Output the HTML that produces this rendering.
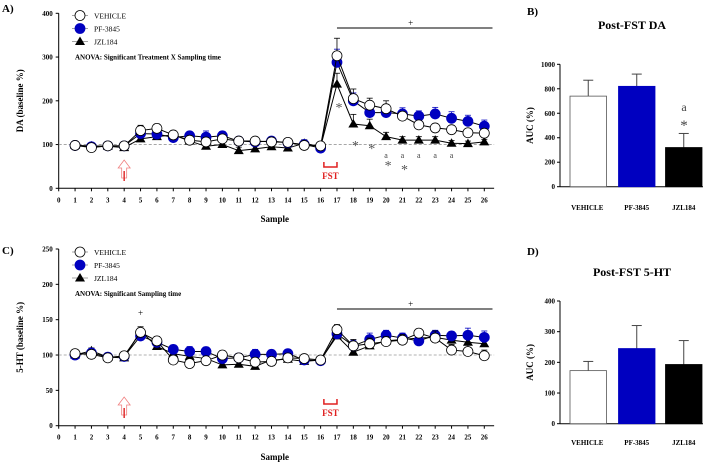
<!DOCTYPE html>
<html><head><meta charset="utf-8"><style>
body{margin:0;background:#fff}
svg{display:block;font-family:"Liberation Serif",serif}
</style></head><body>
<svg id="fig" width="705" height="466" viewBox="0 0 705 466" xmlns="http://www.w3.org/2000/svg" font-weight="bold"></svg>
<script>
const samples=[1,2,3,4,5,6,7,8,9,10,11,12,13,14,15,16,17,18,19,20,21,22,23,24,25,26];
const xTicks=[0,1,2,3,4,5,6,7,8,9,10,11,12,13,14,15,16,17,18,19,20,21,22,23,24,25,26];
const daVehicle=[98,93,97,97,132,137,122,110,106,113,108,108,106,105,98,97,303,205,190,182,165,145,138,134,127,126];
const daPF=[98,95,97,97,125,124,116,120,117,120,108,106,108,104,100,92,288,200,173,173,170,165,170,160,153,142];
const daJZL=[98,97,96,93,113,118,122,108,96,100,86,90,95,92,103,95,238,147,143,118,110,110,110,103,102,106];
const daVehicleErr=[6,5,5,5,12,10,8,8,8,8,8,8,8,7,7,7,40,22,16,18,10,8,8,8,9,8];
const daPFErr=[5,5,5,5,10,10,8,8,14,10,8,8,8,8,8,7,30,18,14,12,14,12,15,15,14,14];
const daJZLErr=[5,5,5,5,10,10,8,8,8,8,8,8,10,8,8,7,25,22,15,10,8,8,8,6,6,6];
const daTicks=[0,100,200,300,400];
const htVehicle=[102,101,96,99,132,120,93,88,92,100,96,90,91,96,95,93,136,113,116,119,121,131,124,107,105,99];
const htPF=[100,103,97,98,127,118,108,105,105,95,96,101,101,102,93,92,130,113,122,128,124,120,128,127,128,125];
const htJZL=[100,106,97,96,134,112,102,98,95,86,87,84,93,94,91,93,127,104,113,120,122,124,125,121,118,116];
const htVehicleErr=[4,4,4,4,6,6,6,6,6,6,6,6,6,6,5,5,7,9,8,7,8,6,10,8,9,8];
const htPFErr=[4,4,4,4,6,6,6,7,6,6,6,7,6,6,5,5,7,8,9,7,7,6,7,6,10,9];
const htJZLErr=[4,4,4,4,6,8,6,6,6,6,6,6,6,6,5,5,6,5,5,5,5,5,5,5,5,5];
const htTicks=[0,50,100,150,200,250];
const groups=["VEHICLE","PF-3845","JZL184"];
const aucDA=[740,820,320];
const aucDAErr=[130,100,115];
const aucDATicks=[0,200,400,600,800,1000];
const auc5HT=[173,245,193];
const auc5HTErr=[30,75,78];
const auc5HTTicks=[0,100,200,300,400];
const colors=["#fff","#0000c0","#000"];

const svg=document.getElementById('fig');
const NS="http://www.w3.org/2000/svg";
function mk(tag,attrs,parent,txt){const e=document.createElementNS(NS,tag);for(const k in attrs)e.setAttribute(k,attrs[k]);if(txt!==undefined)e.textContent=txt;(parent||svg).appendChild(e);return e;}

function linePanel(o){
  const g=mk('g',{});
  
  
  const xs=v=>58.7+v*(484.3-58.7)/26;
  const ys=v=>o.y0+(o.yTop-o.y0)*v/o.yMax;
  const ax=mk('line',{x1:xs(0),y1:ys(0),x2:xs(0),y2:ys(o.yMax),stroke:'#000','stroke-width':1},g);
  
  const bx=mk('line',{x1:xs(0),y1:ys(0),x2:xs(26.6),y2:ys(0),stroke:'#000','stroke-width':1},g);
  
  o.ticks.forEach(t=>{mk('line',{x1:xs(0)-3,x2:xs(0),y1:ys(t),y2:ys(t),stroke:'#000'},g);
    const tl=mk('text',{x:xs(0)-6,y:ys(t)+2.5,'font-size':7,'text-anchor':'end'},g,t);
    });
  xTicks.forEach(t=>{mk('line',{x1:xs(t),x2:xs(t),y1:ys(0),y2:ys(0)+3,stroke:'#000'},g);
    const tl=mk('text',{x:xs(t),y:ys(0)+14,'font-size':7,'text-anchor':'middle'},g,t);
    });
  const xt=mk('text',{x:xs(13.2),y:o.xTitleY,'font-size':9,'text-anchor':'middle'},g,'Sample');
  
  const yt=mk('text',{x:0,y:0,'font-size':9,'text-anchor':'middle',transform:`translate(23,${(ys(0)+ys(o.yMax))/2}) rotate(-90)`},g,o.yTitle);
  
  const pl=mk('text',{x:2,y:o.labelY,'font-size':11},g,o.label);
  
  const bl=mk('line',{x1:xs(0),x2:xs(26.6),y1:ys(100),y2:ys(100),stroke:'#999','stroke-dasharray':'3,2','stroke-width':0.8},g);
  
  const sb=mk('line',{x1:xs(17),x2:xs(26.5),y1:o.sigY,y2:o.sigY,stroke:'#000'},g);
  
  mk('text',{x:xs(21.5),y:o.sigY-2,'font-size':9,'text-anchor':'middle','font-weight':'normal'},g,'+');
  const ar=mk('path',{d:`M${xs(4)},${o.arrowY} l-6,8 h3.5 v10 h5 v-10 h3.5 z`,fill:'#fff',stroke:'#f08080','stroke-width':0.8},g);
  
  mk('line',{x1:xs(4),x2:xs(4),y1:o.arrowY+11,y2:o.arrowY+21,stroke:'#e03030','stroke-width':1.5},g);
  const fb=mk('path',{d:`M${xs(16.2)},${o.fstY} v5 H${xs(17)} v-5`,fill:'none',stroke:'#e02020','stroke-width':1.5},g);
  
  mk('text',{x:xs(16.6),y:o.fstY+17,'font-size':9,'text-anchor':'middle',fill:'#e02020'},g,'FST');
  const series=[[o.veh,o.vehE,0,'circle'],[o.pf,o.pfE,1,'circle'],[o.jzl,o.jzlE,2,'tri']];
  series.slice().reverse().forEach(([vals,errs,ci,shape])=>{
    const sg=mk('g',{},g);
    
    
    mk('polyline',{points:vals.map((v,i)=>xs(samples[i])+','+ys(v)).join(' '),fill:'none',stroke:'#000','stroke-width':1},sg);
    vals.forEach((v,i)=>{const x=xs(samples[i]),y=ys(v),ey=ys(v+errs[i]);
      mk('line',{x1:x,x2:x,y1:y,y2:ey,stroke:ci==1?'#0000c0':'#000','stroke-width':0.8},sg);
      mk('line',{x1:x-3,x2:x+3,y1:ey,y2:ey,stroke:ci==1?'#0000c0':'#000','stroke-width':0.8},sg);
      let m;
      if(shape=='circle')m=mk('circle',{cx:x,cy:y,r:5,fill:colors[ci],stroke:ci==0?'#000':'#0000c0','stroke-width':0.8},sg);
      else m=mk('path',{d:`M${x},${y-5} l5,8.5 h-10 z`,fill:'#000'},sg);
      
    });
  });
  const lg=mk('g',{},g);
  groups.forEach((n,i)=>{const y=o.legY+i*13;
    mk('line',{x1:72,x2:88,y1:y,y2:y,stroke:'#666','stroke-width':0.6},lg);
    if(i<2)mk('circle',{cx:80,cy:y,r:5,fill:colors[i],stroke:i==0?'#000':'#0000c0','stroke-width':0.8},lg);
    else mk('path',{d:`M80,${y-5} l5,8.5 h-10 z`,fill:'#000'},lg);
    const t=mk('text',{x:94,y:y+3,'font-size':7.5,'font-weight':'normal'},lg,n);
    });
  const an=mk('text',{x:75,y:o.legY+44,'font-size':7},g,o.anova);
  
  return {g,xs,ys};
}

const A=linePanel({name:'panel-a-da',label:'A)',labelY:12,y0:188.3,yTop:13.3,yMax:400,ticks:daTicks,yTitle:'DA (baseline %)',
  veh:daVehicle,vehE:daVehicleErr,pf:daPF,pfE:daPFErr,jzl:daJZL,jzlE:daJZLErr,legY:15.5,anova:'ANOVA: Significant Treatment X Sampling time',
  sigY:28,arrowY:160,fstY:162,xTitleY:222});
[[17,112],[18,150],[19,153],[20,170],[21,174]].forEach(([s,y])=>{mk('text',{x:A.xs(s)+2,y:y,'font-size':14,'text-anchor':'middle','font-weight':'normal',fill:'#555'},A.g,'*');});
[20,21,22,23,24].forEach(s=>{mk('text',{x:A.xs(s),y:158,'font-size':8,'text-anchor':'middle','font-weight':'normal',fill:'#444'},A.g,'a');});

const C=linePanel({name:'panel-c-5ht',label:'C)',labelY:254,y0:425.7,yTop:249,yMax:250,ticks:htTicks,yTitle:'5-HT (baseline %)',
  veh:htVehicle,vehE:htVehicleErr,pf:htPF,pfE:htPFErr,jzl:htJZL,jzlE:htJZLErr,legY:252,anova:'ANOVA: Significant Sampling time',
  sigY:309,arrowY:397,fstY:399,xTitleY:460});
mk('text',{x:C.xs(5),y:316,'font-size':9,'text-anchor':'middle','font-weight':'normal'},C.g,'+');

function barPanel(o){
  const g=mk('g',{});
  const ys=v=>o.y0+(o.yTop-o.y0)*v/o.yMax;
  const ax=560;
  mk('line',{x1:ax,x2:ax,y1:ys(0),y2:ys(o.yMax),stroke:'#000'},g);
  mk('line',{x1:ax,x2:703,y1:ys(0),y2:ys(0),stroke:'#000'},g);
  o.ticks.forEach(t=>{mk('line',{x1:ax-3,x2:ax,y1:ys(t),y2:ys(t),stroke:'#000'},g);
    const tl=mk('text',{x:ax-5,y:ys(t)+2.5,'font-size':7,'text-anchor':'end'},g,t);
    });
  const yt=mk('text',{x:0,y:0,'font-size':9,'text-anchor':'middle',transform:`translate(533,${(ys(0)+ys(o.yMax))/2}) rotate(-90)`},g,'AUC (%)');
  
  const lx=[570,618.5,665.5],w=36.5;
  o.vals.forEach((v,i)=>{
    const ey=ys(v+o.errs[i]),cx=lx[i]+w/2;
    mk('line',{x1:cx,x2:cx,y1:ys(v),y2:ey,stroke:'#444'},g);
    mk('line',{x1:cx-5,x2:cx+5,y1:ey,y2:ey,stroke:'#444'},g);
    const b=mk('rect',{x:lx[i],y:ys(v),width:w,height:ys(0)-ys(v),fill:colors[i],stroke:i==0?'#555':colors[i],'stroke-width':0.8},g);
    
    const xl=mk('text',{x:cx+(i==0?-1:0),y:o.xlabY,'font-size':7,'text-anchor':'middle'},g,groups[i]);
    
  });
  const ti=mk('text',{x:632,y:o.titleY,'font-size':12,'text-anchor':'middle'},g,o.title);
  
  const pl=mk('text',{x:527,y:o.labelY,'font-size':11},g,o.label);
  
  return {g,ys};
}
const B=barPanel({name:'panel-b-auc-da',label:'B)',labelY:15,title:'Post-FST DA',titleY:29,y0:186.7,yTop:64.3,yMax:1000,ticks:aucDATicks,vals:aucDA,errs:aucDAErr,xlabY:210});
mk('text',{x:684,y:111,'font-size':12,'text-anchor':'middle','font-weight':'normal',fill:'#444'},B.g,'a');
mk('text',{x:684,y:130,'font-size':15,'text-anchor':'middle','font-weight':'normal',fill:'#444'},B.g,'*');
barPanel({name:'panel-d-auc-5ht',label:'D)',labelY:255,title:'Post-FST 5-HT',titleY:276,y0:423.7,yTop:301,yMax:400,ticks:auc5HTTicks,vals:auc5HT,errs:auc5HTErr,xlabY:445});
</script>
</body></html>
